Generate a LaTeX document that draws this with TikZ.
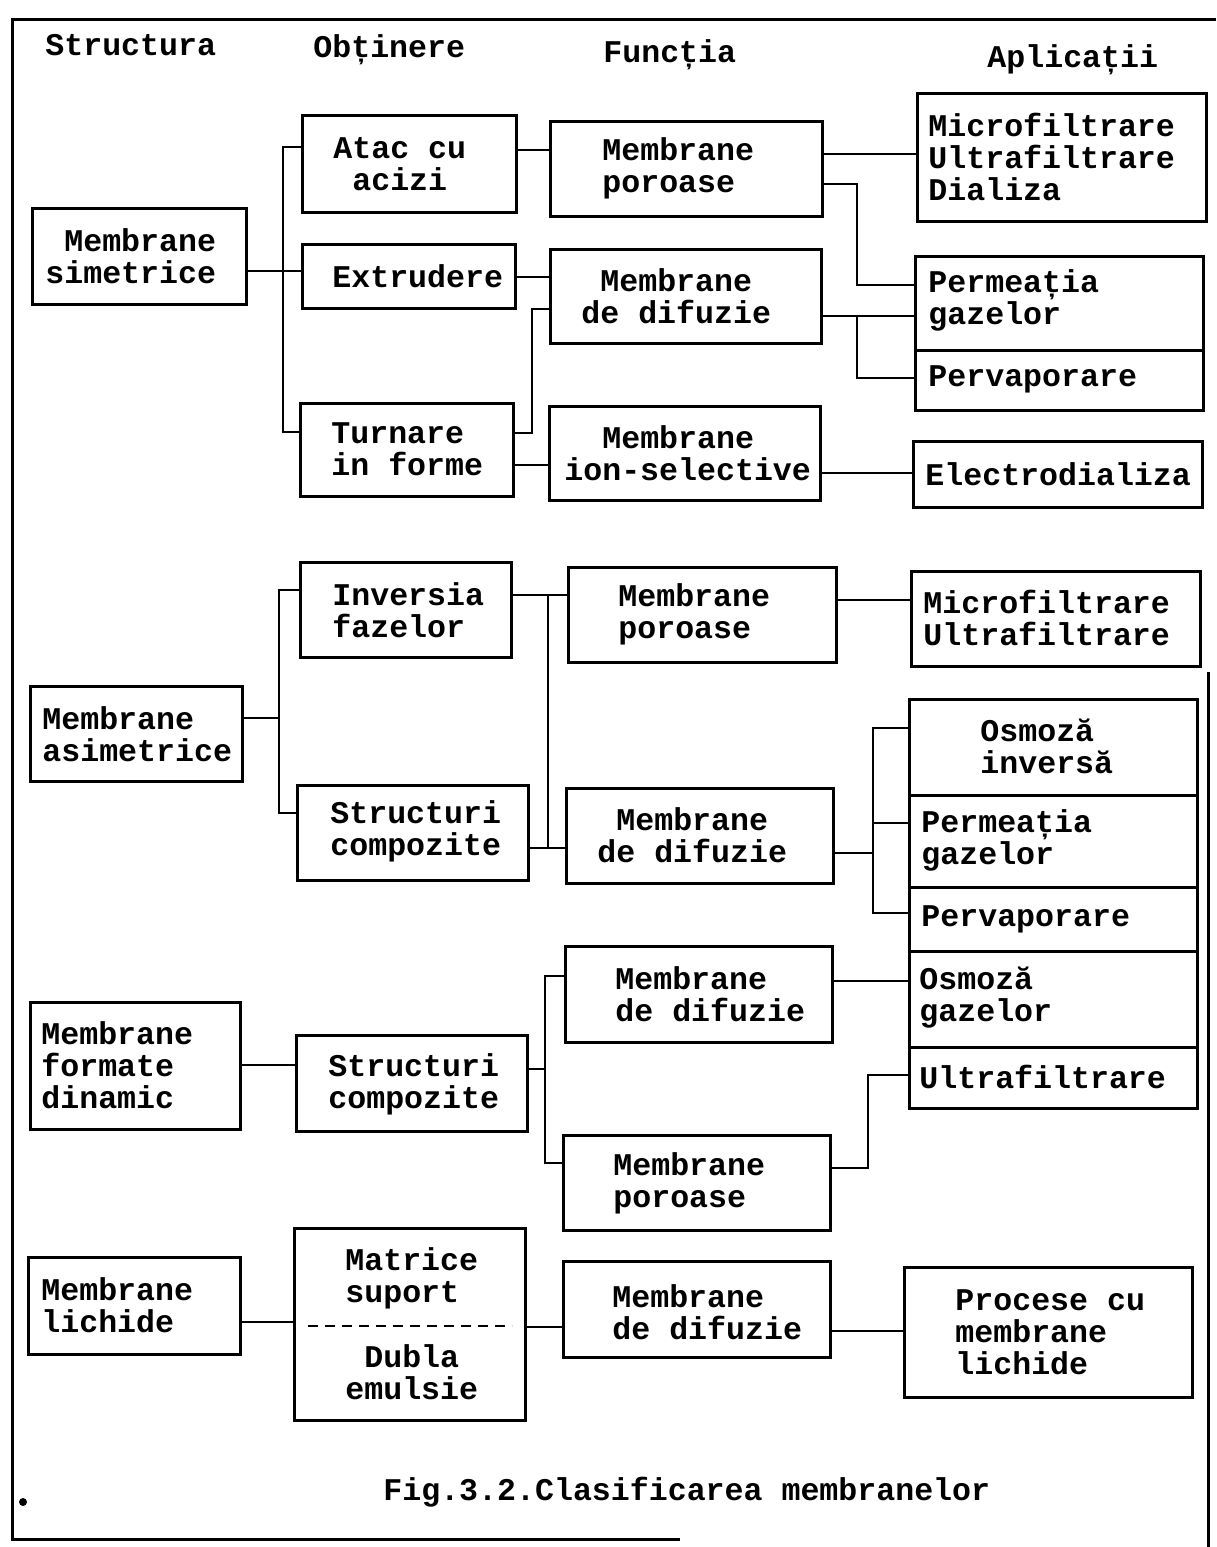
\documentclass[tikz,border=0pt]{standalone}
\usepackage{fontspec}
\newfontfamily\cour{Liberation Mono}
\newcommand\mysp{\hphantom{M}}
% #1 name, #2 x1, #3 y1, #4 x2, #5 y2, #6 text x, #7 text y, #8 text
\newcommand\Bx[8]{%
  \pgfmathsetmacro\bxw{(#4-#2)*0.5}%
  \pgfmathsetmacro\bxh{(#5-#3)*0.5}%
  \node[bx, minimum width=\bxw pt, minimum height=\bxh pt] (#1) at ({(#2+#4)/2},{(#3+#5)/2}) {};
  \node[tx] (#1-t) at (#6,#7) {#8};}
\begin{document}
\begin{tikzpicture}[x=0.5pt,y=-0.5pt,
  bx/.style={draw, line width=1.5pt, inner sep=0pt},
  tx/.style={anchor=west, align=left, inner sep=0pt, font=\cour\bfseries\fontsize{15.8}{16}\selectfont},
  ln/.style={line width=1.2pt}]
\useasboundingbox (0,0) rectangle (1216,1547);
% frame
\draw[line width=1.5pt] (1216,19) -- (12,19) -- (12,1539) -- (680,1539);
\draw[line width=1.5pt] (1208,672) -- (1208,1547);
\fill (23,1502) circle (2pt);
% headers
\node[tx] (h1) at (45,45) {Structura};
\node[tx] (h2) at (313,50) {Obținere};
\node[tx] (h3) at (603,55) {Funcția};
\node[tx] (h4) at (987,60) {Aplicații};
% section 1
\Bx{sim}{32}{208}{246}{304}{45}{256}{\mysp Membrane\\simetrice}
\Bx{atac}{302}{115}{516}{212}{333}{164}{Atac cu\\\mysp acizi}
\Bx{ext}{302}{244}{515}{308}{332}{276}{Extrudere}
\Bx{turn}{300}{403}{513}{496}{331}{449}{Turnare\\in forme}
\Bx{por1}{550}{121}{822}{216}{602}{168}{Membrane\\poroase}
\Bx{dif1}{550}{249}{821}{343}{581}{296}{\mysp Membrane\\de difuzie}
\Bx{ion}{549}{406}{820}{500}{564}{453}{\mysp\mysp Membrane\\ion-selective}
\Bx{mic1}{917}{93}{1206}{221}{928}{157}{Microfiltrare\\Ultrafiltrare\\Dializa}
\Bx{perm1}{915}{256}{1203}{350}{928}{300}{Permeația\\gazelor}
\Bx{perv1}{915}{350}{1203}{410}{928}{379}{Pervaporare}
\Bx{elec}{913}{441}{1202}{507}{925}{474}{Electrodializa}
% section 2
\Bx{asim}{30}{686}{242}{781}{42}{734}{Membrane\\asimetrice}
\Bx{inv}{300}{562}{511}{657}{332}{610}{Inversia\\fazelor}
\Bx{str2}{297}{785}{528}{880}{330}{831}{Structuri\\compozite}
\Bx{por2}{568}{567}{836}{662}{618}{614}{Membrane\\poroase}
\Bx{dif2}{566}{788}{833}{883}{597}{835}{\mysp Membrane\\de difuzie}
\Bx{mic2}{911}{571}{1200}{666}{923}{618}{Microfiltrare\\Ultrafiltrare}
\Bx{osi}{909}{699}{1197}{795}{980}{746}{Osmoză\\inversă}
\Bx{perm2}{909}{795}{1197}{887}{921}{840}{Permeația\\gazelor}
\Bx{perv2}{909}{887}{1197}{951}{921}{919}{Pervaporare}
\Bx{osg}{909}{951}{1197}{1047}{919}{998}{Osmoză\\gazelor}
\Bx{ultra}{909}{1047}{1197}{1108}{919}{1077}{Ultrafiltrare}
% section 3
\Bx{form}{30}{1002}{240}{1129}{41}{1065}{Membrane\\formate\\dinamic}
\Bx{str3}{296}{1035}{527}{1131}{328}{1084}{Structuri\\compozite}
\Bx{dif3}{565}{946}{832}{1042}{615}{994}{Membrane\\de difuzie}
\Bx{por3}{563}{1135}{830}{1230}{613}{1183}{Membrane\\poroase}
% section 4
\Bx{lich}{28}{1257}{240}{1354}{41}{1305}{Membrane\\lichide}
\Bx{mat}{294}{1228}{525}{1420}{345}{1324}{Matrice\\suport\\[16.5pt]\mysp Dubla\\emulsie}
\Bx{dif4}{563}{1261}{830}{1357}{612}{1312}{Membrane\\de difuzie}
\Bx{proc}{904}{1267}{1192}{1397}{955}{1332}{Procese cu\\membrane\\lichide}
\draw[line width=1.2pt, dash pattern=on 5pt off 3.5pt] (308,1326) -- (512,1326);
% caption
\node[tx] (cap) at (383,1492) {Fig.3.2.Clasificarea membranelor};
% connectors section 1
\draw[ln] (sim.east|-0,271) -- (ext.west|-0,271);
\draw[ln] (atac.west|-0,147) -- (283,147) -- (283,432) -- (turn.west|-0,432);
\draw[ln] (atac.east|-0,150) -- (por1.west|-0,150);
\draw[ln] (ext.east|-0,277) -- (dif1.west|-0,277);
\draw[ln] (turn.east|-0,433) -- (532,433) -- (532,309) -- (dif1.west|-0,309);
\draw[ln] (turn.east|-0,465) -- (ion.west|-0,465);
\draw[ln] (por1.east|-0,154) -- (mic1.west|-0,154);
\draw[ln] (por1.east|-0,184) -- (857,184) -- (857,285) -- (perm1.west|-0,285);
\draw[ln] (dif1.east|-0,316) -- (perm1.west|-0,316);
\draw[ln] (857,316) -- (857,378) -- (perv1.west|-0,378);
\draw[ln] (ion.east|-0,473) -- (elec.west|-0,473);
% connectors section 2
\draw[ln] (asim.east|-0,718) -- (279,718);
\draw[ln] (inv.west|-0,590) -- (279,590) -- (279,813) -- (str2.west|-0,813);
\draw[ln] (inv.east|-0,595) -- (por2.west|-0,595);
\draw[ln] (str2.east|-0,848) -- (dif2.west|-0,848);
\draw[ln] (548,595) -- (548,848);
\draw[ln] (por2.east|-0,600) -- (mic2.west|-0,600);
\draw[ln] (dif2.east|-0,853) -- (873,853);
\draw[ln] (osi.west|-0,728) -- (873,728) -- (873,913) -- (perv2.west|-0,913);
\draw[ln] (873,823) -- (perm2.west|-0,823);
% connectors section 3
\draw[ln] (form.east|-0,1065) -- (str3.west|-0,1065);
\draw[ln] (str3.east|-0,1069) -- (545,1069);
\draw[ln] (dif3.west|-0,976) -- (545,976) -- (545,1163) -- (por3.west|-0,1163);
\draw[ln] (dif3.east|-0,981) -- (osg.west|-0,981);
\draw[ln] (por3.east|-0,1168) -- (868,1168) -- (868,1075) -- (ultra.west|-0,1075);
% connectors section 4
\draw[ln] (lich.east|-0,1322) -- (mat.west|-0,1322);
\draw[ln] (mat.east|-0,1327) -- (dif4.west|-0,1327);
\draw[ln] (dif4.east|-0,1331) -- (proc.west|-0,1331);
\end{tikzpicture}
\end{document}
